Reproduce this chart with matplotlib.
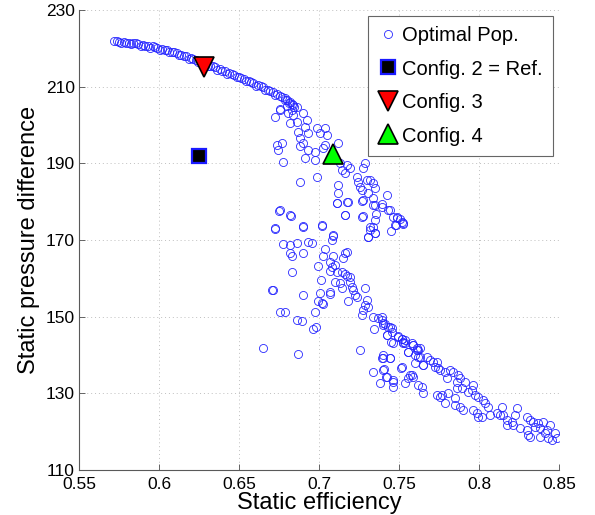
from matplotlib import pyplot as plt

plt.rcParams['font.family'] = ['Liberation Sans', 'DejaVu Sans']

# upper (dense) part of the Pareto front
front_eff = [0.572, 0.5735, 0.575, 0.578, 0.5795, 0.581, 0.584, 0.5855, 0.587, 0.590,
             0.5915, 0.593, 0.596, 0.5975, 0.599, 0.602, 0.6035, 0.605, 0.608, 0.6095,
             0.611, 0.614, 0.6155, 0.617, 0.620, 0.6215, 0.623, 0.626, 0.6275, 0.629,
             0.632, 0.6335, 0.635, 0.638, 0.6395, 0.641, 0.644, 0.6455, 0.647, 0.650,
             0.6515, 0.653, 0.656, 0.6575, 0.659, 0.662, 0.6635, 0.665, 0.668, 0.6695,
             0.671, 0.674, 0.6755, 0.677, 0.6785, 0.680, 0.682, 0.683, 0.684, 0.686,
             0.5765, 0.5825, 0.5885, 0.5945, 0.6005, 0.6065, 0.6125, 0.6185, 0.6245, 0.6305,
             0.6365, 0.6425, 0.6485, 0.6545, 0.6605, 0.6665, 0.6725, 0.6785, 0.6815, 0.6845]
front_dp = [221.8, 221.9, 221.7, 221.6, 221.4, 221.5, 221.3, 221.3, 221.1, 220.9,
            220.7, 220.7, 220.5, 220.4, 220.2, 219.9, 219.6, 219.5, 219.1, 219.0,
            218.7, 218.3, 218.0, 217.9, 217.4, 217.2, 217.0, 216.5, 216.2, 216.0,
            215.5, 215.3, 215.0, 214.5, 214.2, 214.0, 213.5, 213.3, 213.0, 212.5,
            212.2, 212.0, 211.5, 211.2, 211.0, 210.4, 210.1, 209.8, 209.2, 208.8,
            208.6, 208.0, 207.6, 207.3, 207.0, 206.6, 206.0, 205.6, 205.3, 204.8,
            221.4, 221.0, 220.6, 220.2, 219.6, 219.0, 218.2, 217.3, 216.4, 215.5,
            214.4, 213.4, 212.4, 211.4, 210.3, 209.1, 207.9, 206.4, 205.8, 204.6]

# scattered members of the optimal population
scat_eff = [0.6725, 0.6756, 0.6736, 0.6767, 0.6746, 0.6777, 0.6809, 0.6819, 0.6840, 0.6861,
            0.6871, 0.6882, 0.6902, 0.6913, 0.6923, 0.6934, 0.6934, 0.6902, 0.6913, 0.6882,
            0.6975, 0.6986, 0.7006, 0.7038, 0.7048, 0.7027, 0.7038, 0.6975, 0.6986, 0.6882,
            0.7121, 0.7131, 0.7142, 0.7163, 0.7194, 0.7173, 0.7236, 0.7246, 0.7256, 0.7267,
            0.7277, 0.7288, 0.7298, 0.7319, 0.7340, 0.7350, 0.7309, 0.7277, 0.7121, 0.7121,
            0.7111, 0.7173, 0.7163, 0.7267, 0.7340, 0.7350, 0.7392, 0.7423, 0.7434, 0.7465,
            0.7486, 0.7517, 0.7527, 0.7475, 0.7350, 0.7340, 0.7319, 0.7350, 0.7309, 0.7090,
            0.7017, 0.6902, 0.6819, 0.6756, 0.6725, 0.6756, 0.6798, 0.6829,
            0.6752, 0.6823, 0.6725, 0.6902, 0.7017, 0.6777, 0.6819, 0.6861, 0.6934, 0.6954,
            0.7090, 0.7079, 0.7038, 0.6898, 0.6819, 0.6829, 0.6829, 0.7027, 0.7090, 0.7163,
            0.7177, 0.7152, 0.6996, 0.7069, 0.7079, 0.7100, 0.7069, 0.7111, 0.7142, 0.7163,
            0.7173, 0.7194, 0.7131, 0.7142, 0.7100, 0.7011, 0.7006, 0.7069, 0.7069, 0.6996,
            0.7017, 0.7023, 0.6975, 0.6902, 0.6788, 0.6865, 0.6892, 0.6965, 0.6981, 0.7184,
            0.7194, 0.7204, 0.7215, 0.7225, 0.7236, 0.7288, 0.7298, 0.7288, 0.7309, 0.7267,
            0.7277, 0.7340, 0.7371, 0.7392, 0.7402, 0.7413, 0.7444, 0.7344, 0.7423, 0.7454,
            0.7465, 0.7496, 0.7517, 0.7527, 0.7538, 0.7559, 0.7590, 0.7611, 0.7632, 0.7621,
            0.7652, 0.7600, 0.7517, 0.7444, 0.7402, 0.7392, 0.7402, 0.7340, 0.7423, 0.7465,
            0.7569, 0.7590, 0.6648, 0.6871, 0.7256, 0.6711, 0.7115, 0.7184, 0.7267, 0.7340,
            0.7392, 0.7356, 0.7444, 0.7486, 0.7507, 0.7527, 0.7481, 0.7448, 0.7319, 0.7350,
            0.7309, 0.7163, 0.7273,
            0.7391, 0.7402, 0.7433, 0.7454, 0.7423, 0.7448, 0.7496, 0.7516, 0.7537, 0.7527,
            0.7558, 0.7579, 0.7589, 0.7610, 0.7621, 0.7600, 0.7631, 0.7652, 0.7673, 0.7694,
            0.7714, 0.7735, 0.7725, 0.7746, 0.7756, 0.7787, 0.7798, 0.7819, 0.7839, 0.7860,
            0.7871, 0.7881, 0.7912, 0.7860, 0.7891, 0.7933, 0.7954, 0.7975, 0.7964, 0.7996,
            0.8027, 0.8037, 0.8058, 0.8069, 0.8110, 0.8131, 0.8152, 0.8141, 0.8173, 0.8173,
            0.8204, 0.8214, 0.8225, 0.8235, 0.8256, 0.8298, 0.8298, 0.8319, 0.8339, 0.8350,
            0.8371, 0.8381, 0.8402, 0.8423, 0.8444, 0.8412, 0.8433, 0.8454, 0.8475, 0.8485,
            0.8308, 0.8319, 0.8381, 0.7402, 0.7444, 0.7406, 0.7419, 0.7464, 0.7464, 0.7510,
            0.7537, 0.7558, 0.7579, 0.7621, 0.7641, 0.7648, 0.7735, 0.7756, 0.7766, 0.7787,
            0.7808, 0.7850, 0.7850, 0.7881, 0.7902, 0.7964, 0.7985, 0.7996, 0.8016, 0.7381,
            0.6756, 0.6706]
scat_dp = [202.2, 203.9, 194.8, 195.2, 193.5, 190.4, 203.0, 200.4, 202.6, 200.9,
           198.3, 196.5, 203.0, 199.6, 201.3, 197.8, 193.5, 195.2, 191.3, 194.4,
           193.0, 199.1, 197.8, 199.1, 197.4, 193.9, 194.8, 190.9, 186.5, 185.2,
           195.2, 190.0, 188.3, 187.4, 188.7, 189.6, 186.5, 185.2, 183.9, 183.0,
           188.7, 190.0, 185.7, 185.7, 184.8, 183.5, 182.2, 180.4, 184.4, 182.2,
           179.6, 180.0, 176.5, 176.1, 180.9, 179.1, 178.7, 181.7, 177.8, 176.1,
           175.7, 174.8, 174.3, 173.9, 175.2, 173.5, 172.6, 171.7, 170.9, 171.3,
           173.9, 173.5, 176.5, 177.8, 173.0, 204.2, 205.0, 203.8,
           177.6, 176.3, 172.9, 173.6, 173.7, 168.9, 168.7, 169.3, 169.6, 169.1,
           171.0, 170.0, 167.6, 166.5, 166.5, 165.8, 161.7, 165.8, 165.8, 166.5,
           166.9, 165.2, 163.2, 164.3, 163.0, 163.5, 162.0, 161.7, 161.7, 161.1,
           160.6, 160.3, 158.7, 157.6, 159.1, 159.6, 156.1, 156.5, 155.8, 154.1,
           153.5, 153.3, 151.3, 155.6, 151.3, 149.1, 148.9, 146.9, 147.4, 154.2,
           159.1, 157.8, 157.0, 155.6, 155.2, 157.4, 154.3, 153.0, 152.6, 150.4,
           151.7, 149.8, 149.6, 149.1, 147.8, 148.1, 147.4, 146.8, 145.2, 147.0,
           143.0, 144.8, 144.3, 143.5, 143.0, 140.9, 142.6, 141.3, 141.7, 139.6,
           137.4, 137.8, 136.9, 139.1, 140.0, 139.1, 136.1, 135.6, 134.3, 133.5,
           134.8, 134.3, 141.9, 140.3, 141.3, 156.9, 179.7, 180.0, 180.3, 179.1,
           179.4, 176.8, 177.8, 176.1, 175.6, 174.5, 173.9, 172.4, 173.5, 171.7,
           170.7, 176.5, 176.3,
           150.0, 148.3, 147.4, 146.1, 145.2, 143.5, 144.9, 144.3, 143.9, 143.0,
           140.9, 143.2, 142.6, 141.7, 141.3, 140.0, 139.6, 137.4, 139.6, 138.7,
           138.2, 138.2, 136.9, 136.5, 136.1, 135.6, 133.9, 136.1, 135.6, 133.0,
           134.8, 133.9, 133.0, 131.3, 131.3, 130.4, 130.9, 129.6, 132.2, 129.1,
           128.2, 127.4, 126.5, 124.3, 124.8, 124.3, 124.3, 126.5, 123.0, 121.7,
           122.6, 121.7, 124.3, 126.1, 120.9, 123.9, 120.4, 123.0, 122.6, 121.3,
           122.2, 120.9, 122.6, 120.4, 121.7, 119.6, 118.3, 117.8, 119.6, 118.3,
           119.1, 118.7, 118.7, 139.1, 139.1, 136.3, 134.2, 133.0, 131.7, 136.5,
           132.6, 133.9, 134.8, 132.2, 131.7, 130.2, 129.6, 129.1, 129.6, 127.4,
           130.0, 128.7, 127.0, 126.5, 125.6, 125.6, 124.8, 123.9, 123.7, 132.6,
           151.2, 157.0]

pop_eff = front_eff + scat_eff
pop_dp = front_dp + scat_dp

config2 = (0.625, 192.0)
config3 = (0.628, 215.0)
config4 = (0.709, 192.5)

fig = plt.figure(figsize=(5.95, 5.15), dpi=100)
ax = fig.add_axes([0.1328, 0.0874, 0.8067, 0.8932])

ax.plot(pop_eff, pop_dp, 'o', mfc='none', mec=(0.15, 0.15, 1.0), ms=5.8, mew=0.6,
        label='Optimal Pop.')
ax.plot(config2[0], config2[1], 's', mfc='k', mec=(0.1, 0.1, 1.0), ms=10.5, mew=1.6,
        label='Config. 2 = Ref.')
ax.plot(config3[0], config3[1], 'v', mfc='red', mec='k', ms=14, mew=1.2,
        label='Config. 3')
ax.plot(config4[0], config4[1], '^', mfc=(0, 1, 0), mec='k', ms=14, mew=1.2,
        label='Config. 4')

ax.set_xlim(0.55, 0.85)
ax.set_ylim(110, 230)
ax.set_xticks([0.55, 0.6, 0.65, 0.7, 0.75, 0.8, 0.85])
ax.set_xticklabels(['0.55', '0.6', '0.65', '0.7', '0.75', '0.8', '0.85'])
ax.set_yticks([110, 130, 150, 170, 190, 210, 230])
ax.tick_params(direction='in', length=4, width=0.6, color='0.3', labelsize=12.5)
ax.tick_params(axis='x', pad=5)
ax.tick_params(axis='y', pad=3)
ax.grid(True, linestyle=(0, (1, 3)), color='0.75', linewidth=0.7)
for s in ['top', 'right']:
    ax.spines[s].set_visible(False)
for s in ['left', 'bottom']:
    ax.spines[s].set_color('0.35')
    ax.spines[s].set_linewidth(0.8)

ax.set_xlabel('Static efficiency', fontsize=17, labelpad=0)
ax.set_ylabel('Static pressure difference', fontsize=17, labelpad=4)

leg = ax.legend(loc='upper right', bbox_to_anchor=(0.9875, 0.987), borderaxespad=0,
                fontsize=14.5, fancybox=False, framealpha=1, edgecolor='0.4',
                handlelength=1.0, handletextpad=0.2, labelspacing=0.72,
                borderpad=0.5, markerscale=1.0)
leg.get_frame().set_linewidth(0.8)

fig.savefig('out.png', dpi=100)
